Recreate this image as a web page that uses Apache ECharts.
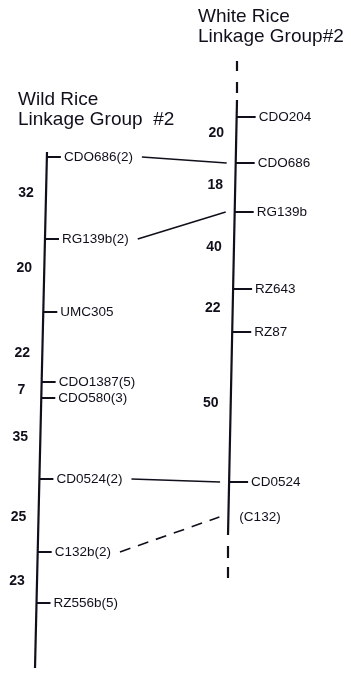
<!DOCTYPE html>
<html><head><meta charset="utf-8">
<script src="https://cdn.jsdelivr.net/npm/echarts@6/dist/echarts.min.js"></script>
<style>html,body{margin:0;padding:0;background:#fff}#c{width:351px;height:677px}</style>
</head><body><div id="c"></div>
<script>
// ---- data (map positions as drawn along each linkage group; figure is not to scale) ----
const leftTitle = 'Wild Rice\nLinkage Group  #2';
const rightTitle = 'White Rice\nLinkage Group#2';
const leftMarkers = ['CDO686(2)','RG139b(2)','UMC305','CDO1387(5)','CDO580(3)','CD0524(2)','C132b(2)','RZ556b(5)'];
const leftPos = [157,239,312,382,398,479,552,603];
const leftDist = ['32','20','22','7','35','25','23'];
const leftDistPos = [193,268,353,390,437,517,581];
const leftExtent = [152,668];
const rightMarkers = ['CDO204','CDO686','RG139b','RZ643','RZ87','CD0524','(C132)'];
const rightPos = [117,163,212,289,332,482,517];
const rightHasTick = [1,1,1,1,1,1,0];
const rightDist = ['20','18','40','22','50'];
const rightDistPos = [133,185,247,308,403];
const rightExtent = [100,535];
const rightDashStart = [61,82,546,567];
const rightDashEnd = [71,93,558,578];
// homologous links: [left marker index, right marker index, dashed]
const links = [[0,1,0],[1,2,0],[5,5,0],[6,6,1]];

// ---- layout / style ----
const W = 351, H = 677;
const FONT = "'Liberation Sans', Arial, Helvetica, sans-serif";
const INK = '#10101c';
const LABEL_SIZE = 13.5, DIST_SIZE = 14;
const L = {y0:152, y1:668, x0:47, x1:35};   // slant of left bar
const R = {y0:100, y1:535, x0:237, x1:228}; // slant of right bar
function chromX(c, y){ return c.x0 + (c.x1 - c.x0) * (y - c.y0) / (c.y1 - c.y0); }
const mctx = document.createElement('canvas').getContext('2d');
mctx.font = LABEL_SIZE + 'px ' + FONT;
function tw(t){ return mctx.measureText(t).width; }

const LEFT_TICK = 14, RIGHT_TICK = 19, GAP = 3;

function textEl(x, y, text, size, weight, align){
  return {type:'text', x:x, y:y, style:{text:text, fill:INK, font:(weight||'normal')+' '+size+'px '+FONT, align:align||'left', verticalAlign:'middle'}};
}
function lineEl(p0, p1, w, dash){
  return {type:'line', shape:{x1:p0[0],y1:p0[1],x2:p1[0],y2:p1[1]}, style:{stroke:INK, lineWidth:w, lineDash:dash||null}};
}

const chart = echarts.init(document.getElementById('c'), null, {renderer:'canvas'});
const option = {
  backgroundColor:'#fff',
  animation:false,
  title:[
    {text:leftTitle, left:18, top:90, padding:0, itemGap:0, textStyle:{fontFamily:FONT, fontSize:19, fontWeight:'normal', color:INK, lineHeight:20}},
    {text:rightTitle, left:198, top:7, padding:0, itemGap:0, textStyle:{fontFamily:FONT, fontSize:19, fontWeight:'normal', color:INK, lineHeight:20}}
  ],
  grid:{left:0,right:0,top:0,bottom:0},
  xAxis:{type:'value', min:0, max:W, show:false},
  yAxis:{type:'value', min:0, max:H, inverse:true, show:false},
  series:[
    {type:'line', symbol:'none', silent:true, lineStyle:{color:INK, width:2.2},
     data:[[chromX(L,leftExtent[0]),leftExtent[0]],[chromX(L,leftExtent[1]),leftExtent[1]]]},
    {type:'line', symbol:'none', silent:true, lineStyle:{color:INK, width:2.2},
     data:[[chromX(R,rightExtent[0]),rightExtent[0]],[chromX(R,rightExtent[1]),rightExtent[1]]]},
    // dashed continuation of the right group
    {type:'custom', clip:false, silent:true, data:rightDashStart.map((y,i)=>[y,rightDashEnd[i]]),
     renderItem:function(p, api){
       const y0 = api.value(0), y1 = api.value(1);
       const xe = y0 < rightExtent[0] ? chromX(R,rightExtent[0]) : chromX(R,rightExtent[1]);
       const a = api.coord([xe,y0]), b = api.coord([xe,y1]);
       return {type:'rect', shape:{x:a[0]-1.1, y:a[1], width:2.2, height:b[1]-a[1]}, style:{fill:INK}};
     }},
    // left markers
    {type:'custom', clip:false, silent:true, data:leftPos.map((y,i)=>[y,i]),
     renderItem:function(p, api){
       const y = api.value(0), i = api.value(1), x = chromX(L,y);
       const a = api.coord([x,y]), b = api.coord([x+LEFT_TICK,y]);
       return {type:'group', children:[lineEl(a,b,2), textEl(b[0]+GAP, b[1], leftMarkers[i], LABEL_SIZE)]};
     }},
    // right markers
    {type:'custom', clip:false, silent:true, data:rightPos.map((y,i)=>[y,i]),
     renderItem:function(p, api){
       const y = api.value(0), i = api.value(1), x = chromX(R,y);
       const a = api.coord([x,y]), b = api.coord([x+RIGHT_TICK,y]);
       const kids = [];
       if (rightHasTick[i]) { kids.push(lineEl(a,b,2)); kids.push(textEl(b[0]+GAP, b[1], rightMarkers[i], LABEL_SIZE)); }
       else { kids.push(textEl(a[0]+11, a[1], rightMarkers[i], LABEL_SIZE)); }
       return {type:'group', children:kids};
     }},
    // left distances
    {type:'custom', clip:false, silent:true, data:leftDistPos.map((y,i)=>[y,i]),
     renderItem:function(p, api){
       const y = api.value(0), i = api.value(1);
       const c = api.coord([chromX(L,y)-20, y]);
       return textEl(c[0], c[1], leftDist[i], DIST_SIZE, 'bold', 'center');
     }},
    // right distances
    {type:'custom', clip:false, silent:true, data:rightDistPos.map((y,i)=>[y,i]),
     renderItem:function(p, api){
       const y = api.value(0), i = api.value(1);
       const c = api.coord([chromX(R,y)-20, y]);
       return textEl(c[0], c[1], rightDist[i], DIST_SIZE, 'bold', 'center');
     }},
    // homology links
    {type:'custom', clip:false, silent:true, data:links.map((l,i)=>[leftPos[l[0]], rightPos[l[1]], i]),
     renderItem:function(p, api){
       const yl = api.value(0), yr = api.value(1), k = api.value(2);
       const l = links[k];
       const xl = chromX(L,yl) + LEFT_TICK + GAP + tw(leftMarkers[l[0]]) + 9;
       const xr = chromX(R,yr) - 9;
       const a = api.coord([xl,yl]), b = api.coord([xr,yr]);
       return lineEl(a,b,1.6,l[2]?[11,8]:null);
     }}
  ]
};
chart.setOption(option);
</script>
</body></html>
